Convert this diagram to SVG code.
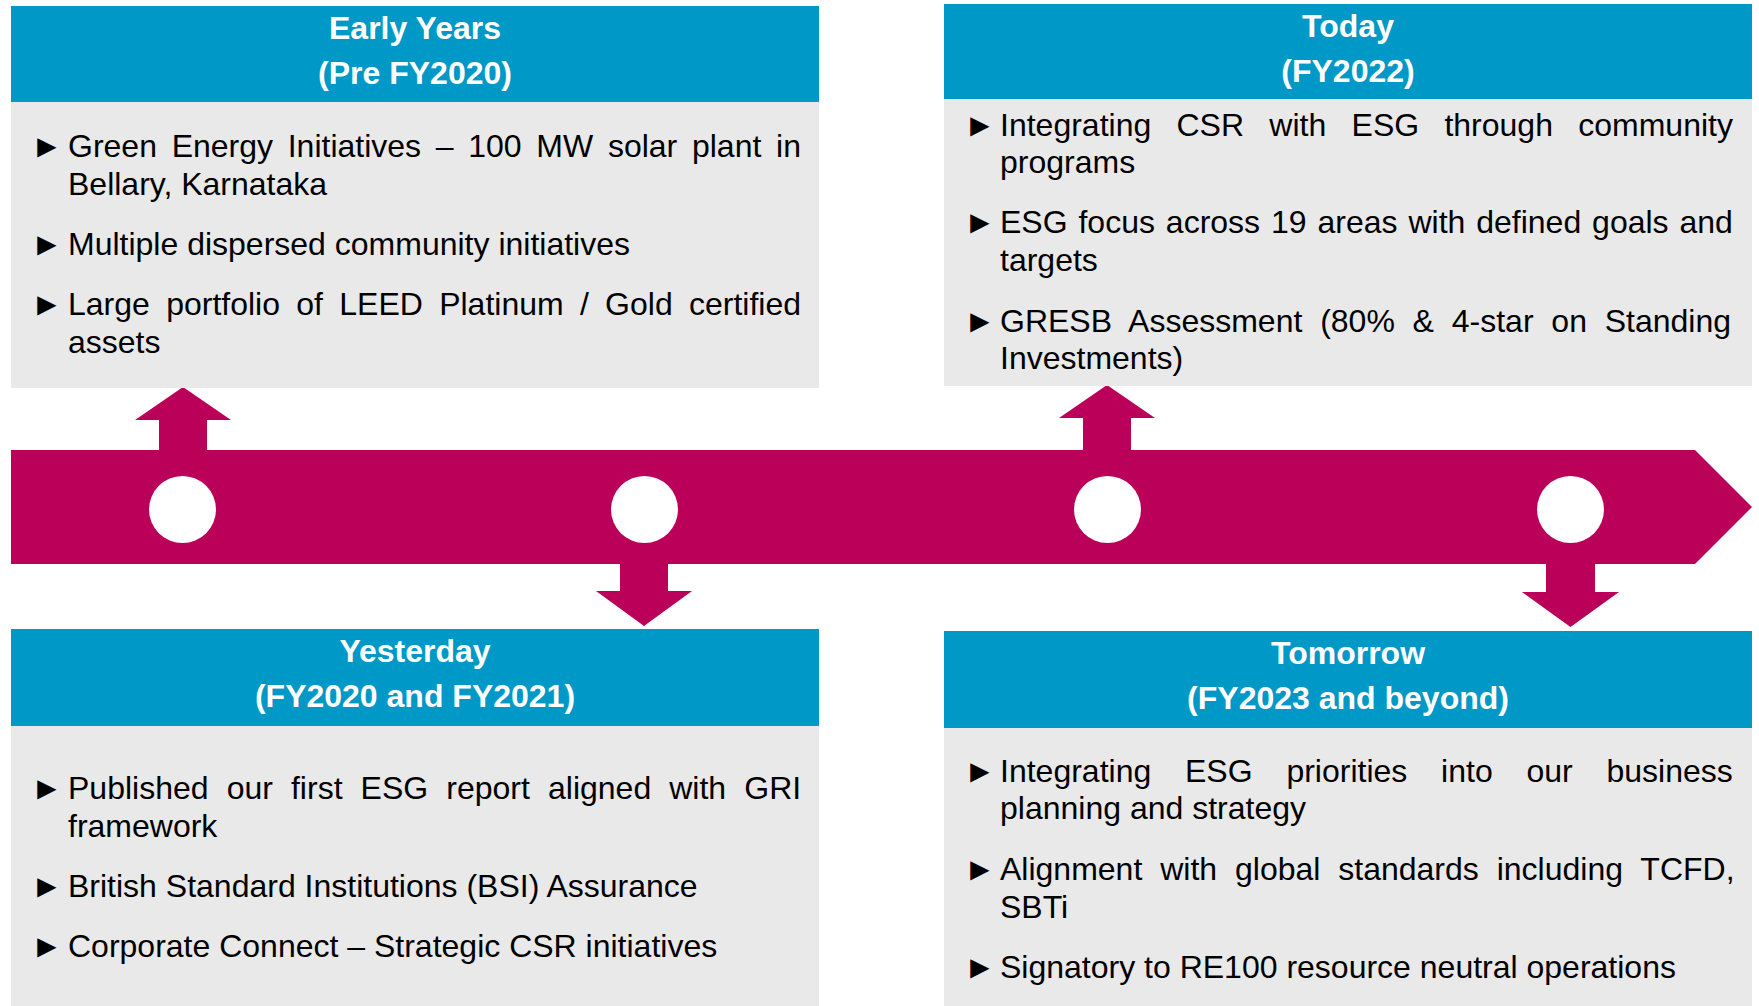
<svg xmlns="http://www.w3.org/2000/svg" width="1759" height="1006" viewBox="0 0 1759 1006">
  <style>
    .hdr { fill: #0098C6; }
    .body { fill: #E9E9E9; }
    .band { fill: #BB0059; }
    .dot { fill: #FFFFFF; }
    .title { font-family: "Liberation Sans", Arial, sans-serif; font-weight: bold; font-size: 32px; fill: #FFFFFF; text-anchor: middle; }
    .txt { font-family: "Liberation Sans", Arial, sans-serif; font-size: 32px; fill: #000000; }
    .bul { font-family: "Liberation Sans", "DejaVu Sans", sans-serif; font-size: 32px; fill: #000000; }
  </style>
  <rect width="1759" height="1006" fill="#FFFFFF"/>

  <g id="timeline">
    <polygon class="band" points="11,450 1695,450 1752,507 1695,564 11,564"/>
    <circle class="dot" cx="182.5" cy="509.5" r="33.5"/>
    <circle class="dot" cx="644.5" cy="509.5" r="33.5"/>
    <circle class="dot" cx="1107.5" cy="509.5" r="33.5"/>
    <circle class="dot" cx="1570.5" cy="509.5" r="33.5"/>
  </g>

  <g id="connectors">
    <polygon class="band" points="159,450 159,420 135,420 183,387 231,420 207,420 207,450"/>
    <polygon class="band" points="1083,450 1083,418 1059,418 1107,385 1155,418 1131,418 1131,450"/>
    <polygon class="band" points="620,564 620,591 596,591 644,626 692,591 668,591 668,564"/>
    <polygon class="band" points="1546,564 1546,592 1522,592 1570.5,627 1619,592 1595,592 1595,564"/>
  </g>

  <g id="early-years">
    <rect class="hdr" x="11" y="6" width="808" height="96"/>
    <rect class="body" x="11" y="102" width="808" height="286"/>
    <text class="title" x="415" y="39">Early Years</text>
    <text class="title" x="415" y="83.5">(Pre FY2020)</text>
    <text class="bul" x="31" y="157">►</text>
    <text class="txt" x="68" y="157" word-spacing="5.8">Green Energy Initiatives – 100 MW solar plant in</text>
    <text class="txt" x="68" y="195">Bellary, Karnataka</text>
    <text class="bul" x="31" y="255">►</text>
    <text class="txt" x="68" y="255">Multiple dispersed community initiatives</text>
    <text class="bul" x="31" y="315">►</text>
    <text class="txt" x="68" y="315" word-spacing="7.4">Large portfolio of LEED Platinum / Gold certified</text>
    <text class="txt" x="68" y="353">assets</text>
  </g>

  <g id="today">
    <rect class="hdr" x="944" y="4" width="808" height="95"/>
    <rect class="body" x="944" y="99" width="808" height="287"/>
    <text class="title" x="1348" y="37">Today</text>
    <text class="title" x="1348" y="82">(FY2022)</text>
    <text class="bul" x="964" y="136">►</text>
    <text class="txt" x="1000" y="136" word-spacing="16.4">Integrating CSR with ESG through community</text>
    <text class="txt" x="1000" y="173">programs</text>
    <text class="bul" x="964" y="233">►</text>
    <text class="txt" x="1000" y="233" word-spacing="2">ESG focus across 19 areas with defined goals and</text>
    <text class="txt" x="1000" y="271">targets</text>
    <text class="bul" x="964" y="332">►</text>
    <text class="txt" x="1000" y="332" word-spacing="8.9">GRESB Assessment (80% &amp; 4-star on Standing</text>
    <text class="txt" x="1000" y="369">Investments)</text>
  </g>

  <g id="yesterday">
    <rect class="hdr" x="11" y="629" width="808" height="97"/>
    <rect class="body" x="11" y="726" width="808" height="280"/>
    <text class="title" x="415" y="662">Yesterday</text>
    <text class="title" x="415" y="706.5">(FY2020 and FY2021)</text>
    <text class="bul" x="31" y="799">►</text>
    <text class="txt" x="68" y="799" word-spacing="9.2">Published our first ESG report aligned with GRI</text>
    <text class="txt" x="68" y="837">framework</text>
    <text class="bul" x="31" y="897">►</text>
    <text class="txt" x="68" y="897">British Standard Institutions (BSI) Assurance</text>
    <text class="bul" x="31" y="957">►</text>
    <text class="txt" x="68" y="957">Corporate Connect – Strategic CSR initiatives</text>
  </g>

  <g id="tomorrow">
    <rect class="hdr" x="944" y="631" width="808" height="97"/>
    <rect class="body" x="944" y="728" width="808" height="278"/>
    <text class="title" x="1348" y="664">Tomorrow</text>
    <text class="title" x="1348" y="708.5">(FY2023 and beyond)</text>
    <text class="bul" x="964" y="782">►</text>
    <text class="txt" x="1000" y="782" word-spacing="24.9">Integrating ESG priorities into our business</text>
    <text class="txt" x="1000" y="819">planning and strategy</text>
    <text class="bul" x="964" y="880">►</text>
    <text class="txt" x="1000" y="880" word-spacing="9">Alignment with global standards including TCFD,</text>
    <text class="txt" x="1000" y="918">SBTi</text>
    <text class="bul" x="964" y="978">►</text>
    <text class="txt" x="1000" y="978">Signatory to RE100 resource neutral operations</text>
  </g>
</svg>
